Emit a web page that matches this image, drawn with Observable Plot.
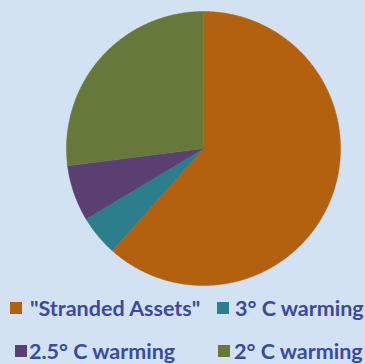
<!DOCTYPE html>
<html>
<head>
<meta charset="utf-8">
<script src="https://cdn.jsdelivr.net/npm/d3@7"></script>
<script src="https://cdn.jsdelivr.net/npm/@observablehq/plot@0.6"></script>
<style>
  html, body { margin: 0; padding: 0; background: #d2e2f3; }
  #chart { width: 365px; height: 364px; position: relative; overflow: hidden; }
  .item { position: absolute; height: 24px; line-height: 24px; white-space: nowrap;
    font-family: Lato, "Open Sans", sans-serif; font-weight: 700; font-size: 21.5px; color: #3a4a9e; }
  .sw { position: absolute; width: 12px; height: 12px; top: 6px; }
  .lbl { position: absolute; top: 0; }
</style>
</head>
<body>
<div id="chart"></div>
<script>
// Share of fossil-fuel reserves by outcome
const categories = ["\"Stranded Assets\"", "3° C warming", "2.5° C warming", "2° C warming"];
const shares = [61.6, 4.8, 6.6, 27.0];
const colors = ["#b4610f", "#2c7e8c", "#5b3f72", "#67793a"];

const rows = categories.map((name, i) => ({name, value: shares[i]}));

// Slice angles, clockwise from 12 o'clock, in data order
const arcs = d3.pie().value(d => d.value).sort(null)(rows);

// Each slice becomes a planar polygon on the unit circle (y up)
function slicePolygon(a) {
  const pts = [[0, 0]];
  const n = Math.max(2, Math.ceil((a.endAngle - a.startAngle) / 0.01));
  for (let k = 0; k <= n; ++k) {
    const t = a.startAngle + (a.endAngle - a.startAngle) * k / n;
    pts.push([Math.sin(t), Math.cos(t)]);
  }
  pts.push([0, 0]);
  return {type: "Feature", properties: {name: a.data.name}, geometry: {type: "Polygon", coordinates: [pts]}};
}
const slices = {type: "FeatureCollection", features: arcs.map(slicePolygon)};

const svg = Plot.plot({
  width: 365,
  height: 290,
  marginTop: 11,
  marginBottom: 5,
  marginLeft: 66,
  marginRight: 25,
  style: {background: "transparent"},
  projection: {type: "reflect-y", domain: {type: "MultiPoint", coordinates: [[-1, -1], [1, 1]]}},
  color: {domain: categories, range: colors},
  marks: [
    Plot.geo(slices, {fill: d => d.properties.name, stroke: d => d.properties.name, strokeWidth: 0.5})
  ]
});

const chart = document.getElementById("chart");
chart.appendChild(svg);

// Two-column legend below the pie: [swatch x, label x, row top]
const legendPos = [[10, 30, 296], [217, 235, 296], [15, 29, 339], [218, 234, 339]];
categories.forEach((name, i) => {
  const [sx, lx, top] = legendPos[i];
  const item = document.createElement("div");
  item.className = "item";
  item.style.left = "0px";
  item.style.top = top + "px";
  const sw = document.createElement("span");
  sw.className = "sw";
  sw.style.left = sx + "px";
  sw.style.background = colors[i];
  const label = document.createElement("span");
  label.className = "lbl";
  label.style.left = lx + "px";
  label.textContent = name;
  item.append(sw, label);
  chart.appendChild(item);
});
</script>
</body>
</html>
